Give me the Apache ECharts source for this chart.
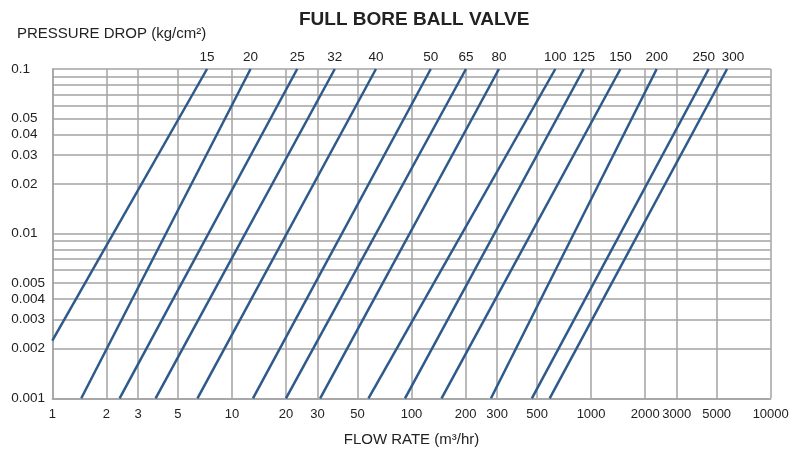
<!DOCTYPE html>
<html>
<head>
<meta charset="utf-8">
<script src="https://cdn.jsdelivr.net/npm/echarts@6/dist/echarts.min.js"></script>
<style>
html,body{margin:0;padding:0;background:#fff;}
#chart{width:792px;height:457px;}
</style>
</head>
<body>
<div id="chart"></div>
<script>
// Valve sizes (line labels)
const sizes = ['15','20','25','32','40','50','65','80','100','125','150','200','250','300'];
// Start point of each line (lower-left)
const startFlow = [1, 1.45, 2.37, 3.76, 6.43, 13.1, 20, 31, 57.6, 92, 147, 277, 468, 588];
const startDrop = [0.00224, 0.001, 0.001, 0.001, 0.001, 0.001, 0.001, 0.001, 0.001, 0.001, 0.001, 0.001, 0.001, 0.001];
// End point of each line (upper-right)
const endFlow = [7.27, 12.7, 23.1, 37.4, 63.4, 128, 201, 307, 632, 910, 1456, 2319, 4515, 5714];
const endDrop = [0.1, 0.1, 0.1, 0.1, 0.1, 0.1, 0.1, 0.1, 0.1, 0.1, 0.1, 0.1, 0.1, 0.1];

// Axis tick labels and grid lines
const xTickLabels = [1,2,3,5,10,20,30,50,100,200,300,500,1000,2000,3000,5000,10000];
const xGridValues = [1,2,3,5,10,20,30,50,100,200,300,500,1000,2000,3000,5000,10000];
const yTickLabels = [0.001,0.002,0.003,0.004,0.005,0.01,0.02,0.03,0.04,0.05,0.1];
const yGridValues = [0.001,0.002,0.003,0.004,0.005,0.006,0.007,0.008,0.009,0.01,0.02,0.03,0.04,0.05,0.06,0.07,0.08,0.09,0.1];

// small horizontal nudges for crowded line labels (style only)
const labelNudge = { '250': -5, '300': 6 };

const LINE_COLOR = '#2e5a8b';
const GRID_COLOR = '#a3a3a3';
const FONT = '"Liberation Sans", Arial, sans-serif';

const series = sizes.map((s, i) => ({
  type: 'line',
  name: s,
  symbol: 'circle',
  symbolSize: 0.01,
  showSymbol: true,
  silent: true,
  animation: false,
  itemStyle: { color: LINE_COLOR },
  lineStyle: { color: LINE_COLOR, width: 2.5 },
  data: [
    [startFlow[i], startDrop[i]],
    { value: [endFlow[i], endDrop[i]],
      label: { show: true, position: 'top', distance: 5, formatter: s,
               offset: [labelNudge[s] || 0, 0],
               color: '#222', fontSize: 13.5, fontFamily: FONT } }
  ]
}));

const chart = echarts.init(document.getElementById('chart'), null, { renderer: 'canvas' });
chart.setOption({
  backgroundColor: '#fff',
  animation: false,
  title: [
    { text: 'FULL BORE BALL VALVE', left: 294, top: 5,
      textStyle: { fontSize: 19, fontWeight: 'bold', color: '#222', fontFamily: FONT } },
    { text: 'PRESSURE DROP (kg/cm²)', left: 12, top: 21,
      textStyle: { fontSize: 15, fontWeight: 'normal', color: '#222', fontFamily: FONT } }
  ],
  grid: { left: 52.3, right: 21.3, top: 69, bottom: 58.7, containLabel: false },
  xAxis: {
    type: 'log', logBase: 10, min: 1, max: 10000,
    name: 'FLOW RATE (m³/hr)', nameLocation: 'middle', nameGap: 34,
    nameTextStyle: { fontSize: 15, color: '#222', fontFamily: FONT },
    axisLine: { show: true, lineStyle: { color: GRID_COLOR, width: 1.5 } },
    axisTick: { show: false, customValues: xGridValues },
    axisLabel: { customValues: xTickLabels, margin: 10, fontSize: 13, color: '#222', fontFamily: FONT,
      formatter: v => String(+(+v).toPrecision(6)) },
    splitLine: { show: true, lineStyle: { color: GRID_COLOR, width: 1.5 } },
    minorSplitLine: { show: false }
  },
  yAxis: {
    type: 'log', logBase: 10, min: 0.001, max: 0.1,
    axisLine: { show: true, lineStyle: { color: GRID_COLOR, width: 1.5 } },
    axisTick: { show: false, customValues: yGridValues },
    axisLabel: { customValues: yTickLabels, margin: 41, align: 'left', fontSize: 13.5, color: '#222', fontFamily: FONT,
      formatter: v => String(+(+v).toPrecision(6)) },
    splitLine: { show: true, lineStyle: { color: GRID_COLOR, width: 1.5 } }
  },
  series: series
});
</script>
</body>
</html>
